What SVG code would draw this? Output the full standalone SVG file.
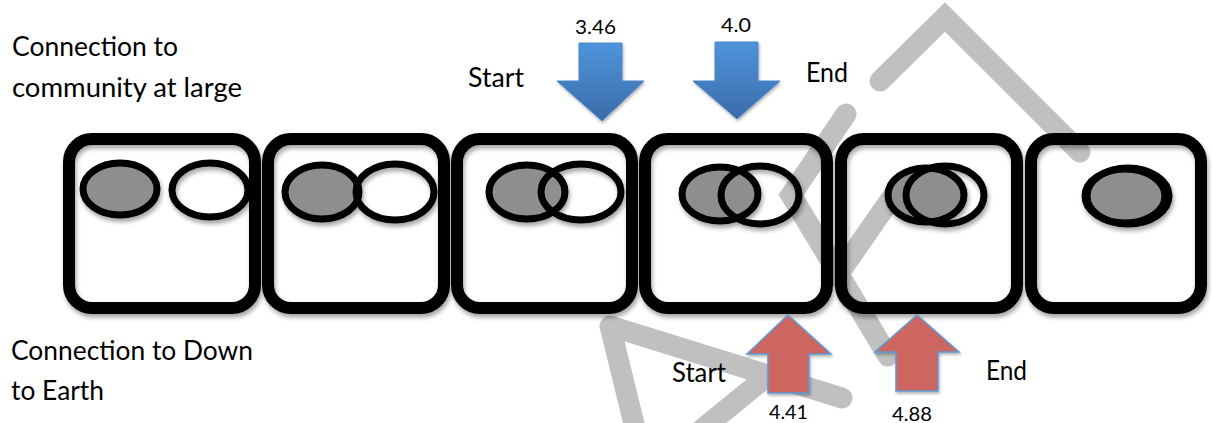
<svg xmlns="http://www.w3.org/2000/svg" width="1212" height="423" viewBox="0 0 1212 423">
<defs>
<filter id="sh" x="-20%" y="-20%" width="140%" height="140%">
<feDropShadow dx="1.5" dy="3.5" stdDeviation="2.2" flood-color="#000" flood-opacity="0.35"/>
</filter>
<filter id="shs" x="-20%" y="-20%" width="140%" height="140%">
<feDropShadow dx="1" dy="2" stdDeviation="1.5" flood-color="#000" flood-opacity="0.3"/>
</filter>
<linearGradient id="blue" x1="0" y1="0" x2="0" y2="1">
<stop offset="0" stop-color="#4f94db"/>
<stop offset="1" stop-color="#3a6ba9"/>
</linearGradient>
<style>
.wm{fill:none;stroke:#c0c0c0;stroke-width:21;stroke-linecap:round}
.box{fill:none;stroke:#000;stroke-width:12}
.ga{fill:#8e8e8e;stroke:#000;stroke-width:7}
.oa{fill:none;stroke:#000;stroke-width:7}
.down{fill:url(#blue);stroke:#4a86c8;stroke-width:1}
.up{fill:#cd6660;stroke:#5b9bd5;stroke-width:1.5}
text{font-family:Lato,"Open Sans","Liberation Sans",sans-serif;fill:#000}
.lbl{font-size:26px}
.num{font-size:19px}
</style>
</defs>
<rect width="1212" height="423" fill="#fff"/>

<g id="watermark">
<polyline class="wm" stroke-linejoin="miter" points="880,81 945,17 1080,152"/>
<polyline class="wm" stroke-linejoin="miter" points="846,114 791,195 888,356"/>
<polyline class="wm" points="897,190 840,272"/>
<polyline class="wm" stroke-linejoin="round" points="842,398 610,326 636,432"/>
<polyline class="wm" points="765,378 695,435"/>
</g>

<g id="box1" filter="url(#sh)">
<rect class="box" x="69" y="139" width="186" height="169" rx="23"/>
<ellipse class="ga" cx="120" cy="189" rx="37" ry="26"/>
<ellipse class="oa" cx="210" cy="190" rx="38" ry="27"/>
</g>
<g id="box2" filter="url(#sh)">
<rect class="box" x="268" y="139" width="176" height="169" rx="23"/>
<ellipse class="ga" cx="322" cy="192" rx="37" ry="27"/>
<ellipse class="oa" cx="395" cy="192" rx="39" ry="28"/>
</g>
<g id="box3" filter="url(#sh)">
<rect class="box" x="457" y="139" width="175" height="169" rx="23"/>
<ellipse class="ga" cx="527" cy="192" rx="38" ry="27"/>
<ellipse class="oa" cx="581" cy="192" rx="40" ry="28"/>
</g>
<g id="box4" filter="url(#sh)">
<rect class="box" x="645" y="139" width="182" height="169" rx="23"/>
<ellipse class="ga" cx="720" cy="194" rx="38" ry="27"/>
<ellipse class="oa" cx="760" cy="195" rx="39" ry="29"/>
</g>
<g id="box5" filter="url(#sh)">
<rect class="box" x="841" y="139" width="176" height="169" rx="23"/>
<ellipse class="ga" cx="926" cy="195" rx="38" ry="27"/>
<ellipse class="oa" cx="945" cy="195" rx="39" ry="29"/>
</g>
<g id="box6" filter="url(#sh)">
<rect class="box" x="1031" y="139" width="170" height="169" rx="23"/>
<ellipse class="ga" cx="1125" cy="196" rx="40" ry="27"/>
<ellipse class="oa" cx="1128" cy="196" rx="41" ry="28"/>
</g>

<g id="connectors">
<polygon class="down" filter="url(#shs)" points="579,43 622,43 622,81 644,81 602,121 557,81 579,81"/>
<polygon class="down" filter="url(#shs)" points="715,42 758,42 758,81 780,81 737,119 693,81 715,81"/>
<polygon class="up" filter="url(#shs)" points="788,315 831,354 809,354 809,393 768,393 768,354 747,354"/>
<polygon class="up" filter="url(#shs)" points="917,315 959,352 938,352 938,391 896,391 896,352 875,352"/>
</g>

<g id="labels">
<text class="lbl" x="12" y="56" textLength="166" lengthAdjust="spacingAndGlyphs">Connection to</text>
<text class="lbl" x="12" y="97" textLength="230" lengthAdjust="spacingAndGlyphs">community at large</text>
<text class="lbl" x="468" y="87" textLength="56" lengthAdjust="spacingAndGlyphs">Start</text>
<text class="lbl" x="806" y="82" textLength="42" lengthAdjust="spacingAndGlyphs">End</text>
<text class="num" x="575" y="34" textLength="41" lengthAdjust="spacingAndGlyphs">3.46</text>
<text class="num" x="721" y="32" textLength="30" lengthAdjust="spacingAndGlyphs">4.0</text>
<text class="lbl" x="11" y="360" textLength="242" lengthAdjust="spacingAndGlyphs">Connection to Down</text>
<text class="lbl" x="11" y="400" textLength="93" lengthAdjust="spacingAndGlyphs">to Earth</text>
<text class="lbl" x="672" y="382" textLength="54" lengthAdjust="spacingAndGlyphs">Start</text>
<text class="lbl" x="986" y="380" textLength="41" lengthAdjust="spacingAndGlyphs">End</text>
<text class="num" x="769" y="419" textLength="39" lengthAdjust="spacingAndGlyphs">4.41</text>
<text class="num" x="892" y="421" textLength="40" lengthAdjust="spacingAndGlyphs">4.88</text>
</g>
</svg>
